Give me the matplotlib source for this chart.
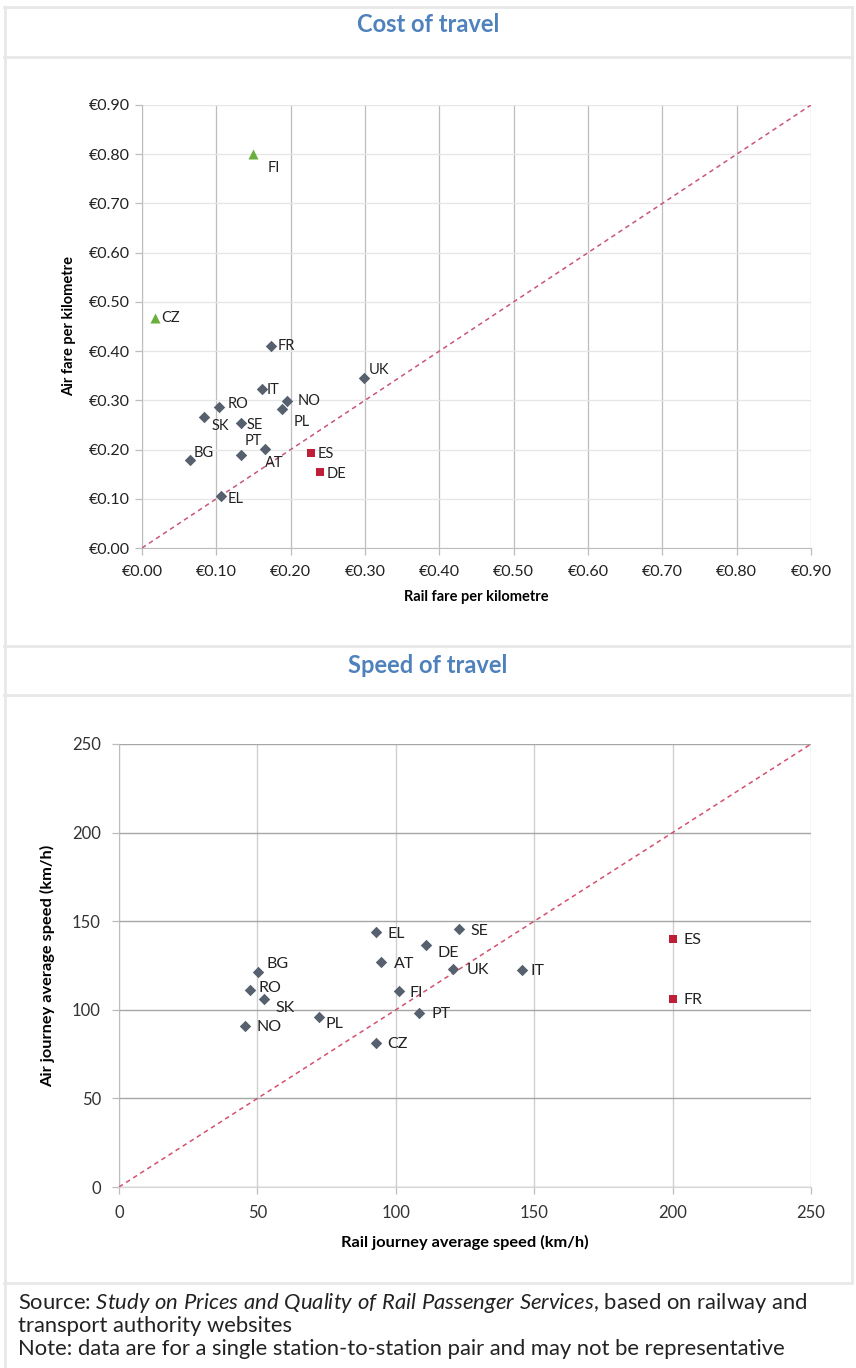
"""Rail vs air: cost and speed per country pair."""

import matplotlib.pyplot as plt
from matplotlib.lines import Line2D
from matplotlib.ticker import FuncFormatter, MultipleLocator

W, H, DPI = 856, 1368, 100
plt.rcParams["font.family"] = ["Lato", "DejaVu Sans"]
plt.rcParams["mathtext.fontset"] = "custom"
plt.rcParams["mathtext.rm"] = "Lato"
plt.rcParams["mathtext.it"] = "Lato:italic"

# ---- data: cost of travel (EUR per km) ----
cost_countries = ["FI", "CZ", "FR", "UK", "IT", "NO", "PL", "RO", "SK", "SE", "PT", "AT", "BG", "EL", "ES", "DE"]
rail_fare = [0.149, 0.018, 0.174, 0.298, 0.162, 0.195, 0.189, 0.103, 0.083, 0.133, 0.133, 0.165, 0.065, 0.106, 0.228, 0.240]
air_fare = [0.800, 0.467, 0.411, 0.345, 0.323, 0.299, 0.282, 0.287, 0.266, 0.254, 0.188, 0.201, 0.179, 0.106, 0.192, 0.154]
cost_group = ["air", "air", "mid", "mid", "mid", "mid", "mid", "mid", "mid", "mid", "mid", "mid", "mid", "mid", "rail", "rail"]

# ---- data: speed of travel (km/h) ----
speed_countries = ["EL", "SE", "DE", "ES", "AT", "UK", "IT", "BG", "RO", "FI", "SK", "FR", "PT", "PL", "NO", "CZ"]
rail_speed = [92.7, 122.8, 110.9, 200, 94.5, 120.5, 145.5, 50.3, 47.3, 101.0, 52.3, 200, 108.5, 72.4, 45.5, 92.7]
air_speed = [143.7, 145.8, 136.6, 140, 127.1, 123.0, 122.5, 121.5, 111.2, 110.6, 105.9, 105.9, 98.0, 96.1, 91.0, 81.1]
speed_group = ["mid", "mid", "mid", "rail", "mid", "mid", "mid", "mid", "mid", "mid", "mid", "rail", "mid", "mid", "mid", "mid"]

# label nudges in pixels (dx, dy)
cost_offsets = {"FI": (15, -14), "CZ": (6, 0), "FR": (6, 0), "UK": (5, 8), "IT": (4, -1), "NO": (11, 0),
                "PL": (11, -13), "RO": (9, 3), "SK": (8, -9), "SE": (6, -2), "PT": (4, 14), "AT": (0, -14),
                "BG": (3, 7), "EL": (7, -3), "ES": (6, -1), "DE": (6, -2)}
speed_offsets = {"EL": (12, -2), "SE": (12, -2), "DE": (12, -8), "ES": (11, -1), "AT": (13, -2), "UK": (14, -1),
                 "IT": (9, -1), "BG": (8, 8), "RO": (9, 2), "FI": (11, -2), "SK": (12, -9), "FR": (11, -1),
                 "PT": (12, -1), "PL": (6, -7), "NO": (12, -1), "CZ": (12, -1)}

STYLE = {"mid": dict(marker="D", color="#56606E", s=34),
         "rail": dict(marker="s", color="#BE1E36", s=40),
         "air": dict(marker="^", color="#6AAF3D", s=52)}
TITLE_BLUE = "#4F81BD"
BORDER = "#E8E8E8"


def px_axes(fig, x0, y0, x1, y1):
    return fig.add_axes([x0 / W, 1 - y1 / H, (x1 - x0) / W, (y1 - y0) / H])


def hline(fig, y, x0=4, x1=852):
    fig.add_artist(Line2D([x0 / W, x1 / W], [1 - y / H] * 2, color=BORDER, lw=2))


def vline(fig, x, y0, y1):
    fig.add_artist(Line2D([x / W] * 2, [1 - y0 / H, 1 - y1 / H], color=BORDER, lw=2))


def scatter_labels(ax, xs, ys, names, groups, offsets, fs):
    for g, st in STYLE.items():
        px = [x for x, k in zip(xs, groups) if k == g]
        py = [y for y, k in zip(ys, groups) if k == g]
        ax.scatter(px, py, marker=st["marker"], color=st["color"], s=st["s"], zorder=4, linewidths=0)
    for x, y, n in zip(xs, ys, names):
        dx, dy = offsets[n]
        ax.annotate(n, (x, y), xytext=(dx, dy), textcoords="offset pixels",
                    ha="left", va="center", fontsize=fs, color="#222222", zorder=5)


fig = plt.figure(figsize=(W / DPI, H / DPI), dpi=DPI)

# cell borders
for y in [7, 57, 646, 695, 1283]:
    hline(fig, y)
vline(fig, 5, 7, 1368)
vline(fig, 852, 7, 1283)

fig.text(0.5, 1 - 25 / H, "Cost of travel", ha="center", va="center", fontsize=17, fontweight="bold", color=TITLE_BLUE)
fig.text(0.5, 1 - 665 / H, "Speed of travel", ha="center", va="center", fontsize=17, fontweight="bold", color=TITLE_BLUE)

# ---- top: cost ----
ax1 = px_axes(fig, 142, 105, 811, 548)
ax1.plot([0, 0.9], [0, 0.9], ls=(0, (3, 2.5)), color="#C9557A", lw=1.1, zorder=3)
scatter_labels(ax1, rail_fare, air_fare, cost_countries, cost_group, cost_offsets, 10.5)
ax1.set_xlim(0, 0.9)
ax1.set_ylim(0, 0.9)
ax1.xaxis.set_major_locator(MultipleLocator(0.1))
ax1.yaxis.set_major_locator(MultipleLocator(0.1))
euro = FuncFormatter(lambda v, _: f"€{v:.2f}")
ax1.xaxis.set_major_formatter(euro)
ax1.yaxis.set_major_formatter(euro)
ax1.grid(axis="x", color="#BDBDBD", lw=0.9)
ax1.grid(axis="y", color="#E6E6E6", lw=0.9)
ax1.set_axisbelow(True)
for side in ["top", "right"]:
    ax1.spines[side].set_visible(False)
for side in ["left", "bottom"]:
    ax1.spines[side].set_color("#BDBDBD")
ax1.tick_params(axis="both", colors="#BDBDBD", labelcolor="#222222", labelsize=11.5, length=5, width=0.9)
ax1.tick_params(axis="x", pad=7)
ax1.set_xlabel("Rail fare per kilometre", fontsize=10.5, fontweight="bold", labelpad=8)
ax1.set_ylabel("Air fare per kilometre", fontsize=10.5, fontweight="bold", labelpad=9)

# ---- bottom: speed ----
ax2 = px_axes(fig, 119, 744, 811, 1187)
ax2.plot([0, 250], [0, 250], ls=(0, (3, 2.5)), color="#D4506C", lw=1.1, zorder=3)
scatter_labels(ax2, rail_speed, air_speed, speed_countries, speed_group, speed_offsets, 11.5)
ax2.set_xlim(0, 250)
ax2.set_ylim(0, 250)
ax2.xaxis.set_major_locator(MultipleLocator(50))
ax2.yaxis.set_major_locator(MultipleLocator(50))
ax2.grid(axis="x", color="#D0D0D0", lw=1.0)
ax2.grid(axis="y", color="#A6A6A6", lw=1.0)
ax2.set_axisbelow(True)
for side in ["top", "right"]:
    ax2.spines[side].set_visible(False)
ax2.spines["left"].set_color("#BDBDBD")
ax2.spines["bottom"].set_color("#D6D6D6")
ax2.tick_params(axis="both", colors="#BDBDBD", labelcolor="#333333", labelsize=12, length=5, width=0.9)
ax2.tick_params(axis="x", pad=8)
ax2.tick_params(axis="y", pad=8)
ax2.set_xlabel("Rail journey average speed (km/h)", fontsize=11.8, fontweight="bold", labelpad=10)
ax2.set_ylabel("Air journey average speed (km/h)", fontsize=11.8, fontweight="bold", labelpad=12)

# ---- footer ----
fs = 15.8
fig.text(18 / W, 1 - 1303 / H,
         r"Source: $\it{Study\ on\ Prices\ and\ Quality\ of\ Rail\ Passenger\ Services}$, based on railway and",
         ha="left", va="center", fontsize=fs, color="#222222")
fig.text(18 / W, 1 - 1326 / H, "transport authority websites", ha="left", va="center", fontsize=fs, color="#222222")
fig.text(18 / W, 1 - 1349 / H, "Note: data are for a single station-to-station pair and may not be representative",
         ha="left", va="center", fontsize=fs, color="#222222")

fig.savefig("out.png", dpi=DPI)
